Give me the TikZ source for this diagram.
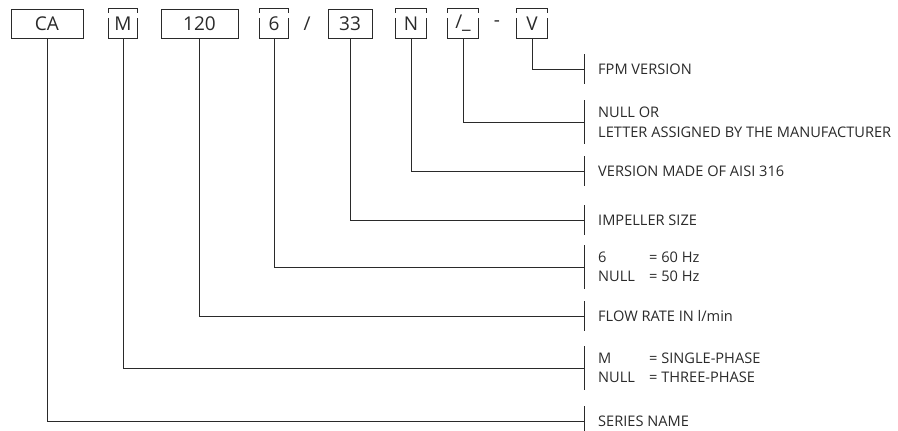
\documentclass[tikz,border=0pt]{standalone}
\usepackage{fontspec}
\setmainfont{Open Sans}
\usetikzlibrary{calc}
\definecolor{ln}{HTML}{2A2A2A}
\tikzset{
  x=1pt,y=-1pt,
  codebox/.style={draw=ln,line width=0.9pt,inner sep=0pt,minimum height=29pt,font=\fontsize{19}{19}\selectfont,text=ln},
  openbox/.style={inner sep=0pt,minimum height=29pt,font=\fontsize{19}{19}\selectfont,text=ln},
  sep/.style={inner sep=0pt,font=\fontsize{19}{19}\selectfont,text=ln},
  lbl/.style={anchor=west,inner sep=0pt,font=\fontsize{14.6}{14.6}\selectfont,text=ln},
  conn/.style={draw=ln,line width=0.9pt},
}
\newcommand\gapframe[1]{%
  \draw[conn] ($(#1.north west)+(0,4)$) |- (#1.north east) -- ($(#1.north east)+(0,4)$);
  \draw[conn] ($(#1.north west)+(0,9)$) |- (#1.south east) -- ($(#1.north east)+(0,9)$);}
\newcommand\tick[2]{\draw[conn] ($(#1)+(0,-#2)$) -- ($(#1)+(0,#2)$);}
\begin{document}
\begin{tikzpicture}
\useasboundingbox (0,0) rectangle (898,431);
% code boxes
\node[codebox,minimum width=72pt] (ca) at (47,23.5) {CA};
\node[openbox,minimum width=28pt] (m) at (123,23.5) {M};
\node[codebox,minimum width=77pt] (q) at (199.5,23.5) {120};
\node[openbox,minimum width=28pt] (hz) at (274,23.5) {6};
\node[sep] (sl) at (307,23.5) {/};
\node[codebox,minimum width=44pt] (imp) at (350,23.5) {33};
\node[openbox,minimum width=30pt] (n) at (411,23.5) {N};
\node[openbox,minimum width=30pt] (let) at (463,23.5) {/\_};
\node[sep] (dash) at (497,23.5) {-};
\node[openbox,minimum width=30pt] (v) at (532,23.5) {V};
\gapframe{m}
\gapframe{hz}
\gapframe{n}
\gapframe{let}
\gapframe{v}
% tick points
\coordinate (tv) at (584,69);
\coordinate (tlet) at (584,122);
\coordinate (tn) at (584,171);
\coordinate (timp) at (584,220);
\coordinate (thz) at (584,267);
\coordinate (tq) at (584,316);
\coordinate (tm) at (584,368);
\coordinate (tca) at (584,421);
% connectors
\draw[conn] (v.south) |- (tv);
\draw[conn] (let.south) |- (tlet);
\draw[conn] (n.south) |- (tn);
\draw[conn] (imp.south) |- (timp);
\draw[conn] (hz.south) |- (thz);
\draw[conn] (q.south) |- (tq);
\draw[conn] (m.south) |- (tm);
\draw[conn] (ca.south) |- (tca);
% ticks
\tick{tv}{15}
\tick{tlet}{22}
\tick{tn}{15}
\tick{timp}{15}
\tick{thz}{22}
\tick{tq}{15}
\tick{tm}{22}
\tick{tca}{15}
% labels
\node[lbl] (lv) at (598,69) {FPM VERSION};
\node[lbl] (llet1) at (598,112) {NULL OR};
\node[lbl] (llet2) at (598,132) {LETTER ASSIGNED BY THE MANUFACTURER};
\node[lbl] (ln) at (598,171) {VERSION MADE OF AISI 316};
\node[lbl] (limp) at (598,220) {IMPELLER SIZE};
\node[lbl] (lhz1) at (598,257) {6};
\node[lbl] (lhz1b) at (649,257) {= 60 Hz};
\node[lbl] (lhz2) at (598,276) {NULL};
\node[lbl] (lhz2b) at (649,276) {= 50 Hz};
\node[lbl] (lq) at (598,316) {FLOW RATE IN l/min};
\node[lbl] (lm1) at (598,358) {M};
\node[lbl] (lm1b) at (649,358) {= SINGLE-PHASE};
\node[lbl] (lm2) at (598,377) {NULL};
\node[lbl] (lm2b) at (649,377) {= THREE-PHASE};
\node[lbl] (lca) at (598,421) {SERIES NAME};
\end{tikzpicture}
\end{document}
